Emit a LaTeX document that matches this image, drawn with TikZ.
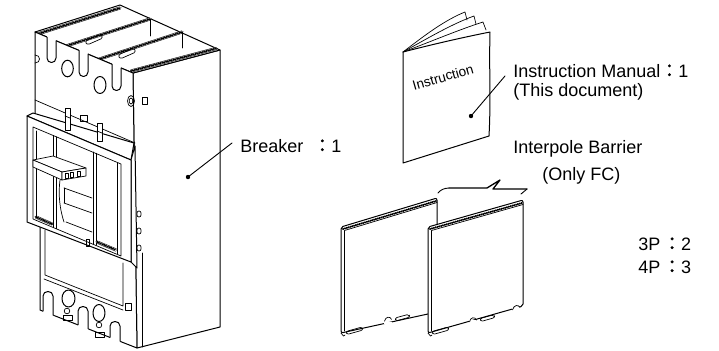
\documentclass[tikz,border=0pt]{standalone}
\usepackage{fontspec}
\setmainfont{Liberation Sans}
\newfontfamily\cjk[FakeBold=1.5]{Noto Sans CJK JP}
\begin{document}
\begin{tikzpicture}[x=0.5pt,y=-0.5pt, line join=round, line cap=round,
  ol/.style={line width=0.5pt},
  th/.style={line width=0.35pt},
  band/.style={double, double distance=1.0pt, line width=0.25pt},
  hatch/.style={line width=1.0pt, dash pattern=on 0.2pt off 0.75pt},
  lbl/.style={anchor=base west, inner sep=0pt, font=\fontsize{9pt}{10.5pt}\selectfont},
  lead/.style={line width=0.45pt},
  wfill/.style={fill=white, draw=none}]
\useasboundingbox (0,0) rectangle (719,350);

% ================= Breaker =================
% side face
\filldraw[ol, fill=white] (133,73) -- (220,50) -- (220,327) -- (137,348) -- cycle;
\draw[th] (142,253) -- (142,347);
% top face
\filldraw[ol, fill=white] (35,32) -- (120,5) -- (220,50) -- (133,73) -- cycle;
% hatched ridges on top
\foreach \a/\b in {{(37.5,34)/(120,8)},{(66,46)/(150,19)},{(98,59.5)/(182,32)},{(131,71)/(216,48.5)}}{
  \draw[band] \a -- \b; \draw[hatch] \a -- \b; }
% terminal screws
\draw[th, rounded corners=1.2pt] (85,41) -- (101,34) -- (103,38) -- (87,45) -- cycle;
\draw[th, rounded corners=1.2pt] (118,55) -- (134,48) -- (136,52) -- (120,59) -- cycle;
\draw[th] (150,19) -- (150,36);
\draw[th] (182,32) -- (182,48);
% front face
\filldraw[ol, fill=white] (35,32) -- (133,73) -- (137,348) -- (40,310) -- (40,226) -- (35,114) -- cycle;
% U slots at top
\foreach \xa/\xb/\ya/\yb/\yc in {47/56/37/40.8/58, 79/88/50.4/54.2/72, 112/121/64.2/68/86}{
  \fill[white] (\xa,\ya-1.5) -- (\xa,\yc) -- (\xb,\yc) -- (\xb,\yb-1.5) -- cycle;
  \draw[ol] (\xa,\ya) -- (\xa,\yc) .. controls (\xa,\yc+6) and (\xb,\yc+6) .. (\xb,\yc) -- (\xb,\yb);
}
% holes
\draw[ol] (67.5,68.5) ellipse [x radius=5.8, y radius=8.3];
\draw[ol] (100,85) ellipse [x radius=6, y radius=8.5];
\draw[th] (35,55) .. controls (41,55) and (41,63) .. (35,63);
\draw[th] (131,101) ellipse [x radius=3.5, y radius=5.5];
\draw[th] (131,101) ellipse [x radius=1.8, y radius=3];
\draw[th] (142,97) rectangle (147,104);
% boundary line
\draw[th] (35,100) -- (135,143);
% cover
\filldraw[ol, fill=white] (27,116) -- (33,113) -- (134,143) -- (131,160) -- cycle;
\filldraw[ol, fill=white] (131,160) -- (135,146) -- (137,268) .. controls (135,266) .. (131,262) -- cycle;
\filldraw[ol, fill=white] (27,116) -- (131,160) -- (131,262) -- (27,222) -- cycle;
\foreach \yy in {211,228,245}{\draw[th, rounded corners=1pt] (137,\yy) rectangle (141,\yy+6);}
% tabs above cover
\filldraw[th, fill=white] (65,108) rectangle (70,130);
\draw[th] (65,116) -- (70,118);
\filldraw[th, fill=white] (97,123) rectangle (102,141);
\draw[th] (97,131) -- (102,133);
\draw[th] (80,115) rectangle (87,121);
% cover inner frame and windows
\draw[th] (33,127) -- (121,164) -- (121,256) -- (33,219) -- cycle;
\draw[th] (36,131) -- (36,218);
\draw[th] (53,135.4) -- (53,227.4);
\draw[th] (56,136.7) -- (56,228.7);
\draw[th] (93,152) -- (93,244);
\draw[th] (96,153.3) -- (96,245.3);
\draw[th] (117,163) -- (117,254);
\draw[band] (36,217) -- (52,224); \draw[hatch] (36,217) -- (52,224);
\draw[band] (97,242) -- (116,250); \draw[hatch] (97,242) -- (116,250);
% handle
\draw[th] (60,180) .. controls (58,195) and (60,210) .. (64,222);
\draw[th] (64,188) -- (92,198);
\draw[th] (64,203) -- (92,213);
\draw[th] (66,222) -- (92,232);
\draw[th] (64,188) -- (64,203);
\filldraw[th, fill=white] (33,160) -- (53,156) -- (86,168) -- (62,172) -- cycle;
\filldraw[th, fill=white] (33,160) -- (62,172) -- (62,180) -- (33,167) -- cycle;
\filldraw[th, fill=white] (62,172) -- (86,168) -- (86,176) -- (62,180) -- cycle;
\draw[th] (65,173.5) rectangle (68.5,178);
\draw[th] (70,172.7) rectangle (73.5,177.2);
\draw[th] (77,171.5) rectangle (80.5,176);
\draw[th] (86,239) rectangle (89.5,246);
% lower panel
\draw[th] (45,230) -- (45,275) -- (123,306) -- (123,263);
\draw[th] (44,279) -- (123,310);
\draw[th] (125,303) rectangle (131,310);
% bottom terminal slots
\foreach \xa/\xb/\ya/\yb/\yc in {43/53/311.2/315.1/296, 78/88/324.8/328.7/311, 110/120/337.3/341.2/326}{
  \fill[white] (\xa,\ya+1.5) -- (\xa,\yc) -- (\xb,\yc) -- (\xb,\yb+1.5) -- cycle;
  \draw[ol] (\xa,\ya) -- (\xa,\yc) .. controls (\xa,\yc-6) and (\xb,\yc-6) .. (\xb,\yc) -- (\xb,\yb);
}
\draw[ol] (68.5,298.5) ellipse [x radius=6.5, y radius=8.5];
\draw[ol] (99,313) ellipse [x radius=6, y radius=8.5];
\draw[th] (67,311) circle [radius=1.4pt];
\draw[th] (99,325) circle [radius=1.4pt];
\draw[th] (63,315) rectangle (72,320);
\draw[th] (95,332) rectangle (104,337);

% breaker leader and label
\coordinate (brkdot) at (188,177);
\coordinate (brkend) at (232,143);
\draw[lead] (brkdot) -- (brkend);
\fill (brkdot) circle [radius=1.1pt];
\node[lbl] (brk) at (240,152) {Breaker\hspace{0.55em}{\cjk ：}1};

% ================= Booklet =================
\draw[th] (403,52) .. controls (425,35) and (445,20) .. (465,12) -- (467,20);
\draw[th] (403,52) .. controls (428,38) and (452,24) .. (474,16) -- (476,24);
\draw[th] (403,52) .. controls (430,42) and (458,30) .. (483,22) -- (486,30);
\filldraw[ol, fill=white] (403,52) .. controls (430,45) and (460,38) .. (490,32)
  .. controls (489,70) and (491,100) .. (489,136) -- (403,163) -- cycle;
\node[rotate=16, inner sep=0pt, font=\fontsize{6.8pt}{8pt}\selectfont] (instr) at (443,77) {Instruction};
\coordinate (mandot) at (471,116);
\coordinate (manend) at (505,76);
\draw[lead] (mandot) -- (manend);
\fill (mandot) circle [radius=1.1pt];
\node[lbl] (man1) at (513,77) {Instruction Manual{\cjk ：}1};
\node[lbl] (man2) at (513,96) {(This document)};

% ================= Barriers =================
% left barrier
\filldraw[ol, fill=white, rounded corners=1pt] (341,227) -- (437,198) -- (437,312) -- (341,333) -- cycle;
\draw[th] (344.5,331) -- (344.5,230.5) -- (437,202.5);
\draw[hatch] (343,229) -- (436,201);
\draw[th] (341,333) -- (343.5,336) -- (345,335);
\fill[white] (384,322) rectangle (392,324);
\draw[th] (384.5,321.2) .. controls (385.5,316.5) and (390,316) .. (391.5,319.3);
\draw[th, rounded corners=1pt] (346,331.5) -- (362,327) -- (363,330) -- (347,334.5) -- cycle;
\draw[th, rounded corners=1pt] (395,318) -- (409,314.2) -- (410,317) -- (396,321) -- cycle;
% right barrier
\filldraw[ol, fill=white, rounded corners=1pt] (428,227) -- (523,200) -- (523,306) -- (428,333) -- cycle;
\draw[th] (431.5,331) -- (431.5,230.5) -- (523,204.5);
\draw[hatch] (430,229) -- (522,203);
\draw[th] (428,333) -- (430.5,336) -- (432,335);
\fill[white] (469,320) rectangle (477,323);
\draw[th] (469.5,321.8) .. controls (470.5,317) and (475,316.5) .. (476.5,320);
\fill[white] (512,307) rectangle (520,311);
\draw[th] (512.5,309.9) .. controls (514,304.5) and (518.5,304.5) .. (520,307.5);
\draw[th, rounded corners=1pt] (432,331.5) -- (448,327) -- (449,330) -- (433,334.5) -- cycle;
\draw[th, rounded corners=1pt] (480,318.5) -- (494,314.7) -- (495,317.5) -- (481,321.5) -- cycle;
% barrier leader
\coordinate (barA) at (438,193);
\coordinate (barB) at (521,194);
\draw[lead] (barA) .. controls (441,189.5) and (444,188.3) .. (449,188);
\draw[line width=0.65pt] (449,188) -- (487,188) -- (500,180) -- (493,189) -- (527,189);
\draw[lead] (527,189) -- (barB);
\node[lbl] (bar1) at (513,153) {Interpole Barrier};
\node[lbl] (bar2) at (542,180) {(Only FC)};
\node[lbl] (p3) at (638,250) {3P\hspace{0.15em}{\cjk ：}2};
\node[lbl] (p4) at (638,273) {4P\hspace{0.15em}{\cjk ：}3};
\end{tikzpicture}
\end{document}
